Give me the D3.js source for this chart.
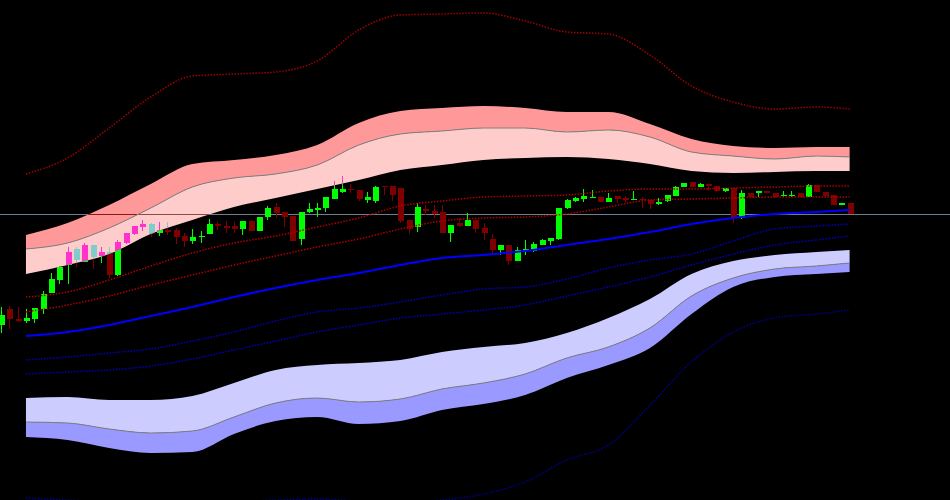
<!DOCTYPE html>
<html>
<head>
<meta charset="utf-8">
<title>Velas con bandas</title>
<script src="https://cdn.jsdelivr.net/npm/d3@7"></script>
<style>
	html, body { margin: 0; padding: 0; background: #000; overflow: hidden; }
	.band { mix-blend-mode: difference; }
</style>
</head>
<body>
<div id="chart"></div>
<script>
	var width = 950,
		height = 500;

	// candles, one per bar (bar 0 .. 102)
	var opens = [675, 691, 681, 679, 681, 691, 707, 720, 735, 751,
		738, 755, 744, 748, 725, 757, 766, 773, 776, 767,
		770, 770, 764, 759, 763, 766, 776, 774, 774, 771,
		779, 769, 783, 793, 788, 784, 761, 788, 790, 792,
		801, 808, 811, 810, 800, 799, 814, 814, 812, 780,
		773, 791, 789, 788, 767, 777, 774, 780, 772, 761,
		750, 755, 739, 749, 749, 755, 759, 761, 792, 799,
		801, 802, 803, 798, 804, 802, 800, 801, 800, 796,
		799, 804, 813, 818, 813, 816, 814, 809, 812, 782,
		807, 807, 809, 807, 804, 804, 807, 803, 815, 808,
		805, 795, 797];
	var highs = [693, 694, 693, 691, 692, 709, 727, 734, 753, 753,
		757, 755, 753, 753, 760, 767, 774, 780, 777, 778,
		778, 772, 767, 771, 769, 781, 778, 779, 778, 779,
		780, 783, 794, 797, 788, 784, 788, 797, 797, 803,
		819, 824, 816, 810, 808, 814, 814, 814, 812, 780,
		797, 795, 795, 795, 775, 782, 787, 780, 777, 766,
		755, 755, 753, 760, 758, 761, 762, 792, 801, 803,
		811, 810, 803, 807, 804, 804, 809, 803, 800, 802,
		805, 814, 817, 818, 817, 816, 814, 812, 812, 810,
		807, 809, 809, 807, 809, 809, 807, 816, 815, 808,
		805, 797, 797];
	var lows = [667, 671, 678, 677, 677, 686, 707, 716, 716, 733,
		738, 731, 737, 722, 724, 756, 765, 769, 763, 764,
		765, 756, 753, 756, 757, 766, 770, 767, 767, 765,
		769, 769, 780, 782, 773, 759, 755, 787, 783, 788,
		801, 807, 807, 799, 797, 797, 805, 799, 777, 766,
		768, 785, 782, 767, 758, 773, 774, 767, 760, 745,
		745, 735, 739, 745, 748, 755, 755, 760, 791, 798,
		798, 802, 798, 798, 797, 797, 800, 792, 791, 795,
		798, 804, 813, 813, 813, 809, 808, 808, 777, 781,
		803, 803, 807, 802, 803, 803, 803, 803, 808, 804,
		795, 795, 786];
	var closes = [685, 681, 679, 682, 692, 706, 721, 733, 748, 740,
		755, 743, 748, 725, 758, 767, 774, 776, 766, 770,
		768, 763, 759, 763, 764, 776, 774, 772, 771, 779,
		769, 783, 792, 787, 783, 759, 788, 791, 792, 803,
		811, 811, 810, 801, 803, 813, 813, 805, 779, 771,
		793, 789, 786, 767, 775, 774, 780, 771, 767, 750,
		755, 739, 750, 751, 756, 760, 762, 792, 800, 802,
		804, 803, 798, 802, 801, 800, 801, 800, 796, 798,
		805, 813, 817, 813, 816, 814, 809, 812, 782, 807,
		803, 809, 807, 803, 805, 805, 803, 815, 808, 804,
		795, 797, 786];

	// indicator values, sampled every 5 bars
	var lineBars = [3, 8, 13, 18, 23, 28, 33, 38, 43, 48, 53, 58, 63, 68, 73, 78, 83, 88, 93, 98, 102];
	var upperFar = [826, 842, 872, 903, 924, 926, 928, 939, 970, 985, 986, 987, 979, 968, 966, 945, 914, 898, 891, 893, 891];
	var upperOuter = [765, 777, 795, 816, 836, 840, 845, 855, 877, 889, 892, 894, 892, 888, 888, 876, 861, 854, 852, 853, 853];
	var upperMid = [751, 757, 772, 792, 813, 822, 826, 835, 855, 866, 869, 872, 872, 868, 870, 863, 848, 844, 841, 844, 843];
	var upperInner = [726, 735, 746, 766, 780, 793, 802, 811, 820, 830, 835, 840, 842, 843, 841, 836, 829, 827, 828, 829, 829];
	var redDots1 = [703, 708, 720, 734, 747, 757, 764, 773, 782, 794, 799, 803, 804, 805, 809, 811, 811, 812, 813, 814, 814];
	var redDots2 = [688, 695, 704, 715, 725, 735, 744, 753, 761, 771, 779, 782, 783, 786, 793, 800, 801, 802, 803, 803, 803];
	var baseLine = [664, 668, 675, 684, 693, 703, 712, 720, 727, 735, 742, 745, 749, 755, 761, 768, 776, 782, 786, 788, 790];
	var blueDots1 = [640, 643, 647, 651, 659, 668, 679, 688, 692, 698, 705, 711, 713, 721, 732, 740, 746, 759, 771, 774, 776];
	var blueDots2 = [626, 628, 630, 634, 641, 650, 659, 668, 675, 682, 686, 690, 695, 704, 713, 723, 735, 746, 755, 760, 764];
	var lowerInner = [602, 603, 600, 600, 604, 617, 630, 635, 637, 640, 648, 653, 657, 667, 682, 701, 726, 739, 745, 748, 750];
	var lowerMid = [578, 577, 571, 567, 569, 583, 597, 602, 598, 601, 611, 617, 626, 642, 653, 672, 704, 722, 731, 734, 737];
	var lowerOuter = [563, 560, 552, 547, 548, 566, 579, 583, 576, 579, 590, 596, 605, 622, 635, 652, 686, 713, 723, 726, 728];
	var lowerFar = [502, 500, 498, 497, 497, 498, 500, 501, 499, 498, 500, 506, 518, 540, 555, 595, 638, 668, 682, 686, 690];

	var lastPrice = 786;

	var svg = d3.select("#chart")
		.append("svg")
		.attr("width", width)
		.attr("height", height)
		.style("display", "block");

	svg.append("rect")
		.attr("width", width)
		.attr("height", height)
		.attr("fill", "#000");

	var x = d3.scaleLinear().domain([0, 102]).range([1, 849.6]);
	var y = d3.scaleLinear().domain([500, 1000]).range([500, 0]);

	var bars = opens.map(function(o, i) {
		return {i: i, o: o, h: highs[i], l: lows[i], c: closes[i]};
	});

	function series(vals) {
		return vals.map(function(v, k) { return {b: lineBars[k], v: v}; });
	}

	// bid line
	svg.append("line")
		.attr("x1", 0).attr("x2", width)
		.attr("y1", Math.round(y(lastPrice)) + 0.5)
		.attr("y2", Math.round(y(lastPrice)) + 0.5)
		.attr("stroke", "#6f7f8f")
		.attr("stroke-width", 1);

	// candles
	var candle = svg.append("g")
		.attr("shape-rendering", "crispEdges")
		.selectAll("g")
		.data(bars)
		.enter().append("g");

	function col(d) { return d.c >= d.o ? "#00ff00" : "#800000"; }

	candle.append("line")
		.attr("x1", function(d) { return Math.round(x(d.i)) + 0.5; })
		.attr("x2", function(d) { return Math.round(x(d.i)) + 0.5; })
		.attr("y1", function(d) { return y(d.h); })
		.attr("y2", function(d) { return y(d.l); })
		.attr("stroke", col);

	candle.append("rect")
		.attr("x", function(d) { return Math.round(x(d.i)) - 2; })
		.attr("width", 6)
		.attr("y", function(d) { return y(Math.max(d.o, d.c)); })
		.attr("height", function(d) { return Math.max(1, Math.abs(y(d.o) - y(d.c))); })
		.attr("fill", col);

	// filled envelopes, XOR-like over the candles
	var bandArea = function(top, bottom) {
		return d3.area()
			.curve(d3.curveMonotoneX)
			.x(function(d) { return x(d.b); })
			.y0(function(d, k) { return y(bottom[k]); })
			.y1(function(d, k) { return y(top[k]); });
	};

	var bands = svg.append("g").attr("class", "band");
	bands.append("path")
		.datum(series(upperOuter))
		.attr("d", bandArea(upperOuter, upperMid))
		.attr("fill", "#ff9999");
	bands.append("path")
		.datum(series(upperMid))
		.attr("d", bandArea(upperMid, upperInner))
		.attr("fill", "#ffcccc");
	bands.append("path")
		.datum(series(lowerInner))
		.attr("d", bandArea(lowerInner, lowerMid))
		.attr("fill", "#ccccff");
	bands.append("path")
		.datum(series(lowerMid))
		.attr("d", bandArea(lowerMid, lowerOuter))
		.attr("fill", "#9999ff");

	var line = d3.line()
		.curve(d3.curveMonotoneX)
		.x(function(d) { return x(d.b); })
		.y(function(d) { return y(d.v); });

	function drawLine(vals, color, w, dash) {
		svg.append("path")
			.datum(series(vals))
			.attr("d", line)
			.attr("fill", "none")
			.attr("stroke", color)
			.attr("stroke-width", w)
			.attr("stroke-dasharray", dash);
	}

	drawLine(upperMid, "#808080", 1, null);
	drawLine(lowerMid, "#808080", 1, null);
	drawLine(upperFar, "#a00000", 1.5, "1.5,1.5");
	drawLine(redDots1, "#b00000", 1.5, "1.5,1.5");
	drawLine(redDots2, "#b00000", 1.5, "1.5,1.5");
	drawLine(blueDots1, "#0000c0", 1.5, "1.5,1.5");
	drawLine(blueDots2, "#0000c0", 1.5, "1.5,1.5");
	drawLine(lowerFar, "#000090", 1.5, "1.5,1.5");
	drawLine(baseLine, "#0000ff", 2, null);
</script>
</body>
</html>
